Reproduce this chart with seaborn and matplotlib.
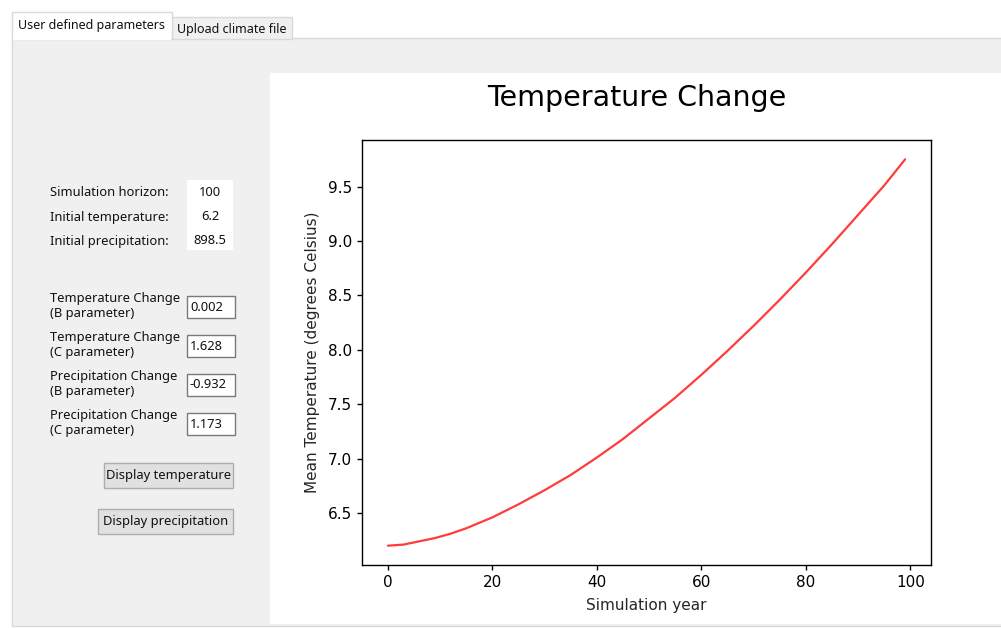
import matplotlib
matplotlib.use("Agg")
import matplotlib.pyplot as plt
import seaborn as sns
import pandas as pd
from matplotlib.patches import Rectangle

# values
years = [0, 3, 6, 9, 12, 15, 20, 25, 30, 35, 40, 45, 50,
         55, 60, 65, 70, 75, 80, 85, 90, 95, 99]
temps = [6.20, 6.21, 6.24, 6.27, 6.31, 6.36, 6.46, 6.58, 6.71, 6.85, 7.01, 7.18, 7.37,
         7.56, 7.77, 7.99, 8.22, 8.46, 8.71, 8.97, 9.24, 9.51, 9.75]

info_labels = ["Simulation horizon:", "Initial temperature:", "Initial precipitation:"]
info_values = ["100", "6.2", "898.5"]
param_labels = ["Temperature Change\n(B parameter)", "Temperature Change\n(C parameter)",
                "Precipitation Change\n(B parameter)", "Precipitation Change\n(C parameter)"]
param_values = ["0.002", "1.628", "-0.932", "1.173"]
tab_labels = ["User defined parameters", "Upload climate file"]
button_labels = ["Display temperature", "Display precipitation"]

W, H = 1001, 628
GUI_FONT = ["Noto Sans", "DejaVu Sans"]

sns.set_theme(style="ticks", rc={"axes.edgecolor": "black", "xtick.color": "black",
                                 "ytick.color": "black", "axes.linewidth": 1.0})
plt.rcParams["font.family"] = ["DejaVu Sans"]

fig = plt.figure(figsize=(W / 100, H / 100), dpi=100)
fig.patch.set_facecolor("white")


def box(x0, y0, x1, y1, fc, ec="none", lw=1.0, z=-2):
    r = Rectangle((x0 / W, 1 - y1 / H), (x1 - x0) / W, (y1 - y0) / H,
                  transform=fig.transFigure, facecolor=fc, edgecolor=ec,
                  linewidth=lw, zorder=z)
    fig.patches.append(r)


def label(x, y, s, size=9.3, ha="left", va="center", **kw):
    fig.text(x / W, 1 - y / H, s, fontsize=size, ha=ha, va=va, family=GUI_FONT,
             color="#111111", **kw)


# window background and tab control
box(0, 0, W, H, "white", z=-5)
box(12, 38, W + 5, 626, "#f0f0f0", ec="#d9d9d9", z=-4)
box(172, 17, 292, 39, "#f0f0f0", ec="#d9d9d9", z=-4)
box(12, 12, 172, 39, "white", ec="#d9d9d9", z=-4)
box(13, 37, 171, 40, "white", z=-3)
label(92, 26, tab_labels[0], size=9, ha="center")
label(232, 29, tab_labels[1], size=9, ha="center")

# white canvas where the chart lives
box(270, 73, W + 5, 624, "white", z=-3)

# info block
box(187, 180, 233, 250, "white")
for i, (t, v) in enumerate(zip(info_labels, info_values)):
    y = 193 + i * 24
    label(50, y, t)
    label(210, y, v, ha="center")

# parameter entries
for i, (t, v) in enumerate(zip(param_labels, param_values)):
    y0 = 296 + i * 39
    label(50, y0 + 10, t, linespacing=1.2)
    box(187, y0, 235, y0 + 22, "white", ec="#7a7a7a")
    label(190, y0 + 11, v)

# buttons
for (x0, y0, x1), t in zip([(104, 463, 233), (98, 509, 233)], button_labels):
    box(x0, y0, x1, y0 + 25, "#e1e1e1", ec="#adadad")
    label((x0 + x1) / 2, y0 + 12.5, t, ha="center")

# chart
ax = fig.add_axes([362 / W, 1 - 565 / H, 569 / W, 425 / H])
ax.set_zorder(5)
df = pd.DataFrame({"year": years, "temp": temps})
sns.lineplot(data=df, x="year", y="temp", ax=ax, color="#ff3b3b", linewidth=1.6)
ax.margins(x=0.05, y=0.05)
ax.set_xticks([0, 20, 40, 60, 80, 100])
ax.set_yticks([6.5, 7.0, 7.5, 8.0, 8.5, 9.0, 9.5])
ax.tick_params(labelsize=11, length=3.5, width=1.0, direction="out")
ax.set_xlabel("Simulation year", fontsize=11, labelpad=6)
ax.set_ylabel("Mean Temperature (degrees Celsius)", fontsize=11, labelpad=6)
for s in ax.spines.values():
    s.set_visible(True)
    s.set_color("black")
fig.text(637 / W, 1 - 98 / H, "Temperature Change", fontsize=20.5,
         ha="center", va="center", color="black")

fig.savefig("out.png", dpi=100)
